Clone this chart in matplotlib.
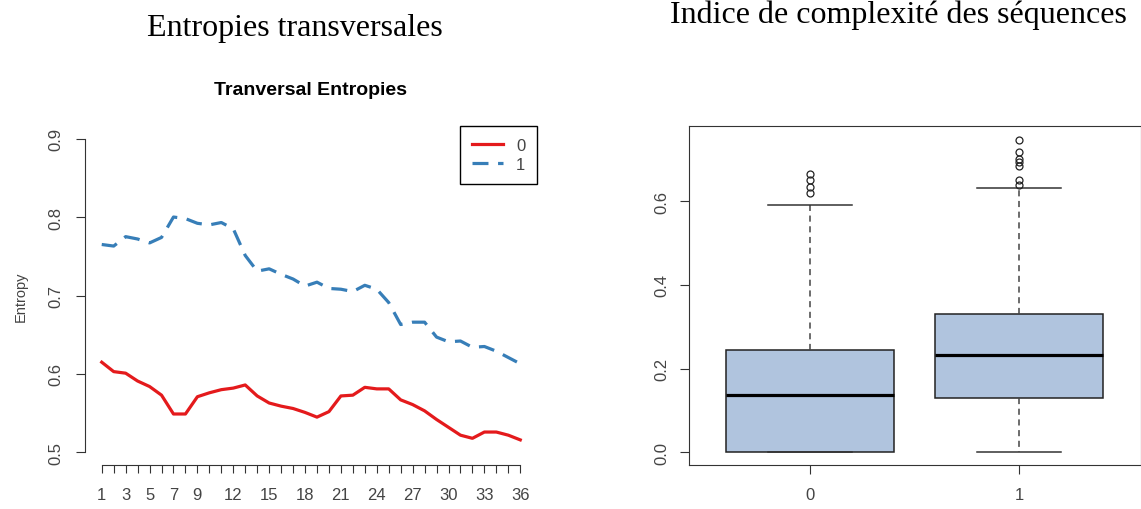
import matplotlib
matplotlib.use("Agg")
import matplotlib.pyplot as plt
import numpy as np

# transversal entropies by month, group 0 and group 1
months = np.arange(1, 37)
entropy_0 = [0.615, 0.603, 0.601, 0.591, 0.584, 0.573, 0.549, 0.549, 0.571, 0.576,
             0.580, 0.582, 0.586, 0.572, 0.563, 0.559, 0.556, 0.551, 0.545, 0.552,
             0.572, 0.573, 0.583, 0.581, 0.581, 0.567, 0.561, 0.553, 0.542, 0.532,
             0.522, 0.518, 0.526, 0.526, 0.522, 0.516]
entropy_1 = [0.765, 0.763, 0.775, 0.772, 0.767, 0.774, 0.800, 0.798, 0.792, 0.790,
             0.793, 0.785, 0.751, 0.731, 0.734, 0.727, 0.721, 0.712, 0.717, 0.709,
             0.708, 0.705, 0.713, 0.708, 0.691, 0.663, 0.666, 0.666, 0.647, 0.641,
             0.642, 0.634, 0.635, 0.629, 0.621, 0.613]
shown_month_labels = [1, 3, 5, 7, 9, 12, 15, 18, 21, 24, 27, 30, 33, 36]

# complexity index boxplot stats
groups = ["0", "1"]
q1 = [0.0, 0.131]
med = [0.136, 0.233]
q3 = [0.245, 0.330]
whis_lo = [0.0, 0.0]
whis_hi = [0.590, 0.632]
fliers = [[0.618, 0.634, 0.649, 0.664],
          [0.639, 0.651, 0.683, 0.692, 0.700, 0.716, 0.746]]

W, H = 1141, 510
fig = plt.figure(figsize=(W / 100, H / 100), dpi=100)
plt.rcParams["font.family"] = ["Liberation Sans", "DejaVu Sans"]
tick_col = "#444444"
axis_col = "#333333"
tick_size = 12

# ---- left: entropies ----
ax = fig.add_axes([85 / W, 1 - 466 / H, 452 / W, 339 / H])
ax.plot(months, entropy_0, color="#E41A1C", lw=2.3, label="0")
ax.plot(months, entropy_1, color="#377EB8", lw=2.3, ls=(0, (5, 3)), label="1")
ax.set_xlim(-0.4, 37.4)
ax.set_ylim(0.484, 0.916)
for s in ["top", "right"]:
    ax.spines[s].set_visible(False)
ax.spines["left"].set_bounds(0.5, 0.9)
ax.spines["bottom"].set_bounds(1, 36)
for s in ["left", "bottom"]:
    ax.spines[s].set_color(axis_col)
ax.set_xticks(months)
ax.set_xticklabels([str(m) if m in shown_month_labels else "" for m in months])
ax.set_yticks([0.5, 0.6, 0.7, 0.8, 0.9])
ax.set_yticklabels(["0.5", "0.6", "0.7", "0.8", "0.9"], rotation=90, va="center")
ax.tick_params(axis="x", length=6, pad=9.5, labelsize=tick_size, colors=axis_col, labelcolor=tick_col)
ax.tick_params(axis="y", length=6.5, pad=9, labelsize=tick_size, colors=axis_col, labelcolor=tick_col)
ax.set_ylabel("Entropy", fontsize=10.5, color=tick_col, labelpad=15)
leg = ax.legend(loc="upper right", bbox_to_anchor=(1.0, 1.0), borderaxespad=0,
                fancybox=False, edgecolor="black", fontsize=tick_size, handlelength=1.85,
                handletextpad=0.8, borderpad=0.7, labelspacing=0.25, framealpha=1)
leg.get_frame().set_linewidth(1.0)
for t in leg.get_texts():
    t.set_color(tick_col)

fig.text(311 / W, 1 - 95 / H, "Tranversal Entropies", fontsize=14, fontweight="bold",
         ha="center", va="baseline")
fig.text(295 / W, 1 - 36 / H, "Entropies transversales", family="Liberation Serif",
         fontsize=23, ha="center", va="baseline")

# ---- right: complexity boxplot ----
bx = fig.add_axes([688.5 / W, 1 - 466 / H, 452 / W, 339 / H])
stats = []
for i in range(len(groups)):
    stats.append({"med": med[i], "q1": q1[i], "q3": q3[i], "whislo": whis_lo[i],
                  "whishi": whis_hi[i], "fliers": fliers[i], "label": groups[i]})
bx.bxp(stats, positions=[1, 2], widths=0.8, capwidths=0.4, patch_artist=True,
       boxprops=dict(facecolor="#B0C4DE", edgecolor="#222222", lw=1.1),
       medianprops=dict(color="black", lw=2.3, solid_capstyle="butt"),
       whiskerprops=dict(color="#444444", lw=1.1, ls=(0, (4, 3))),
       capprops=dict(color="#333333", lw=1.1),
       flierprops=dict(marker="o", markersize=5, markerfacecolor="none",
                       markeredgecolor="#222222", markeredgewidth=0.9))
bx.set_xlim(0.42, 2.58)
bx.set_ylim(-0.03, 0.779)
bx.set_yticks([0.0, 0.2, 0.4, 0.6])
bx.set_yticklabels(["0.0", "0.2", "0.4", "0.6"], rotation=90, va="center")
bx.tick_params(axis="x", length=6.5, pad=9.5, labelsize=tick_size, colors=axis_col, labelcolor=tick_col)
bx.tick_params(axis="y", length=6.5, pad=7.5, labelsize=tick_size, colors=axis_col, labelcolor=tick_col)
for s in bx.spines.values():
    s.set_color(axis_col)
fig.text(898 / W, 1 - 23 / H, "Indice de complexité des séquences", family="Liberation Serif",
         fontsize=23, ha="center", va="baseline")

fig.savefig("out.png", dpi=100)
